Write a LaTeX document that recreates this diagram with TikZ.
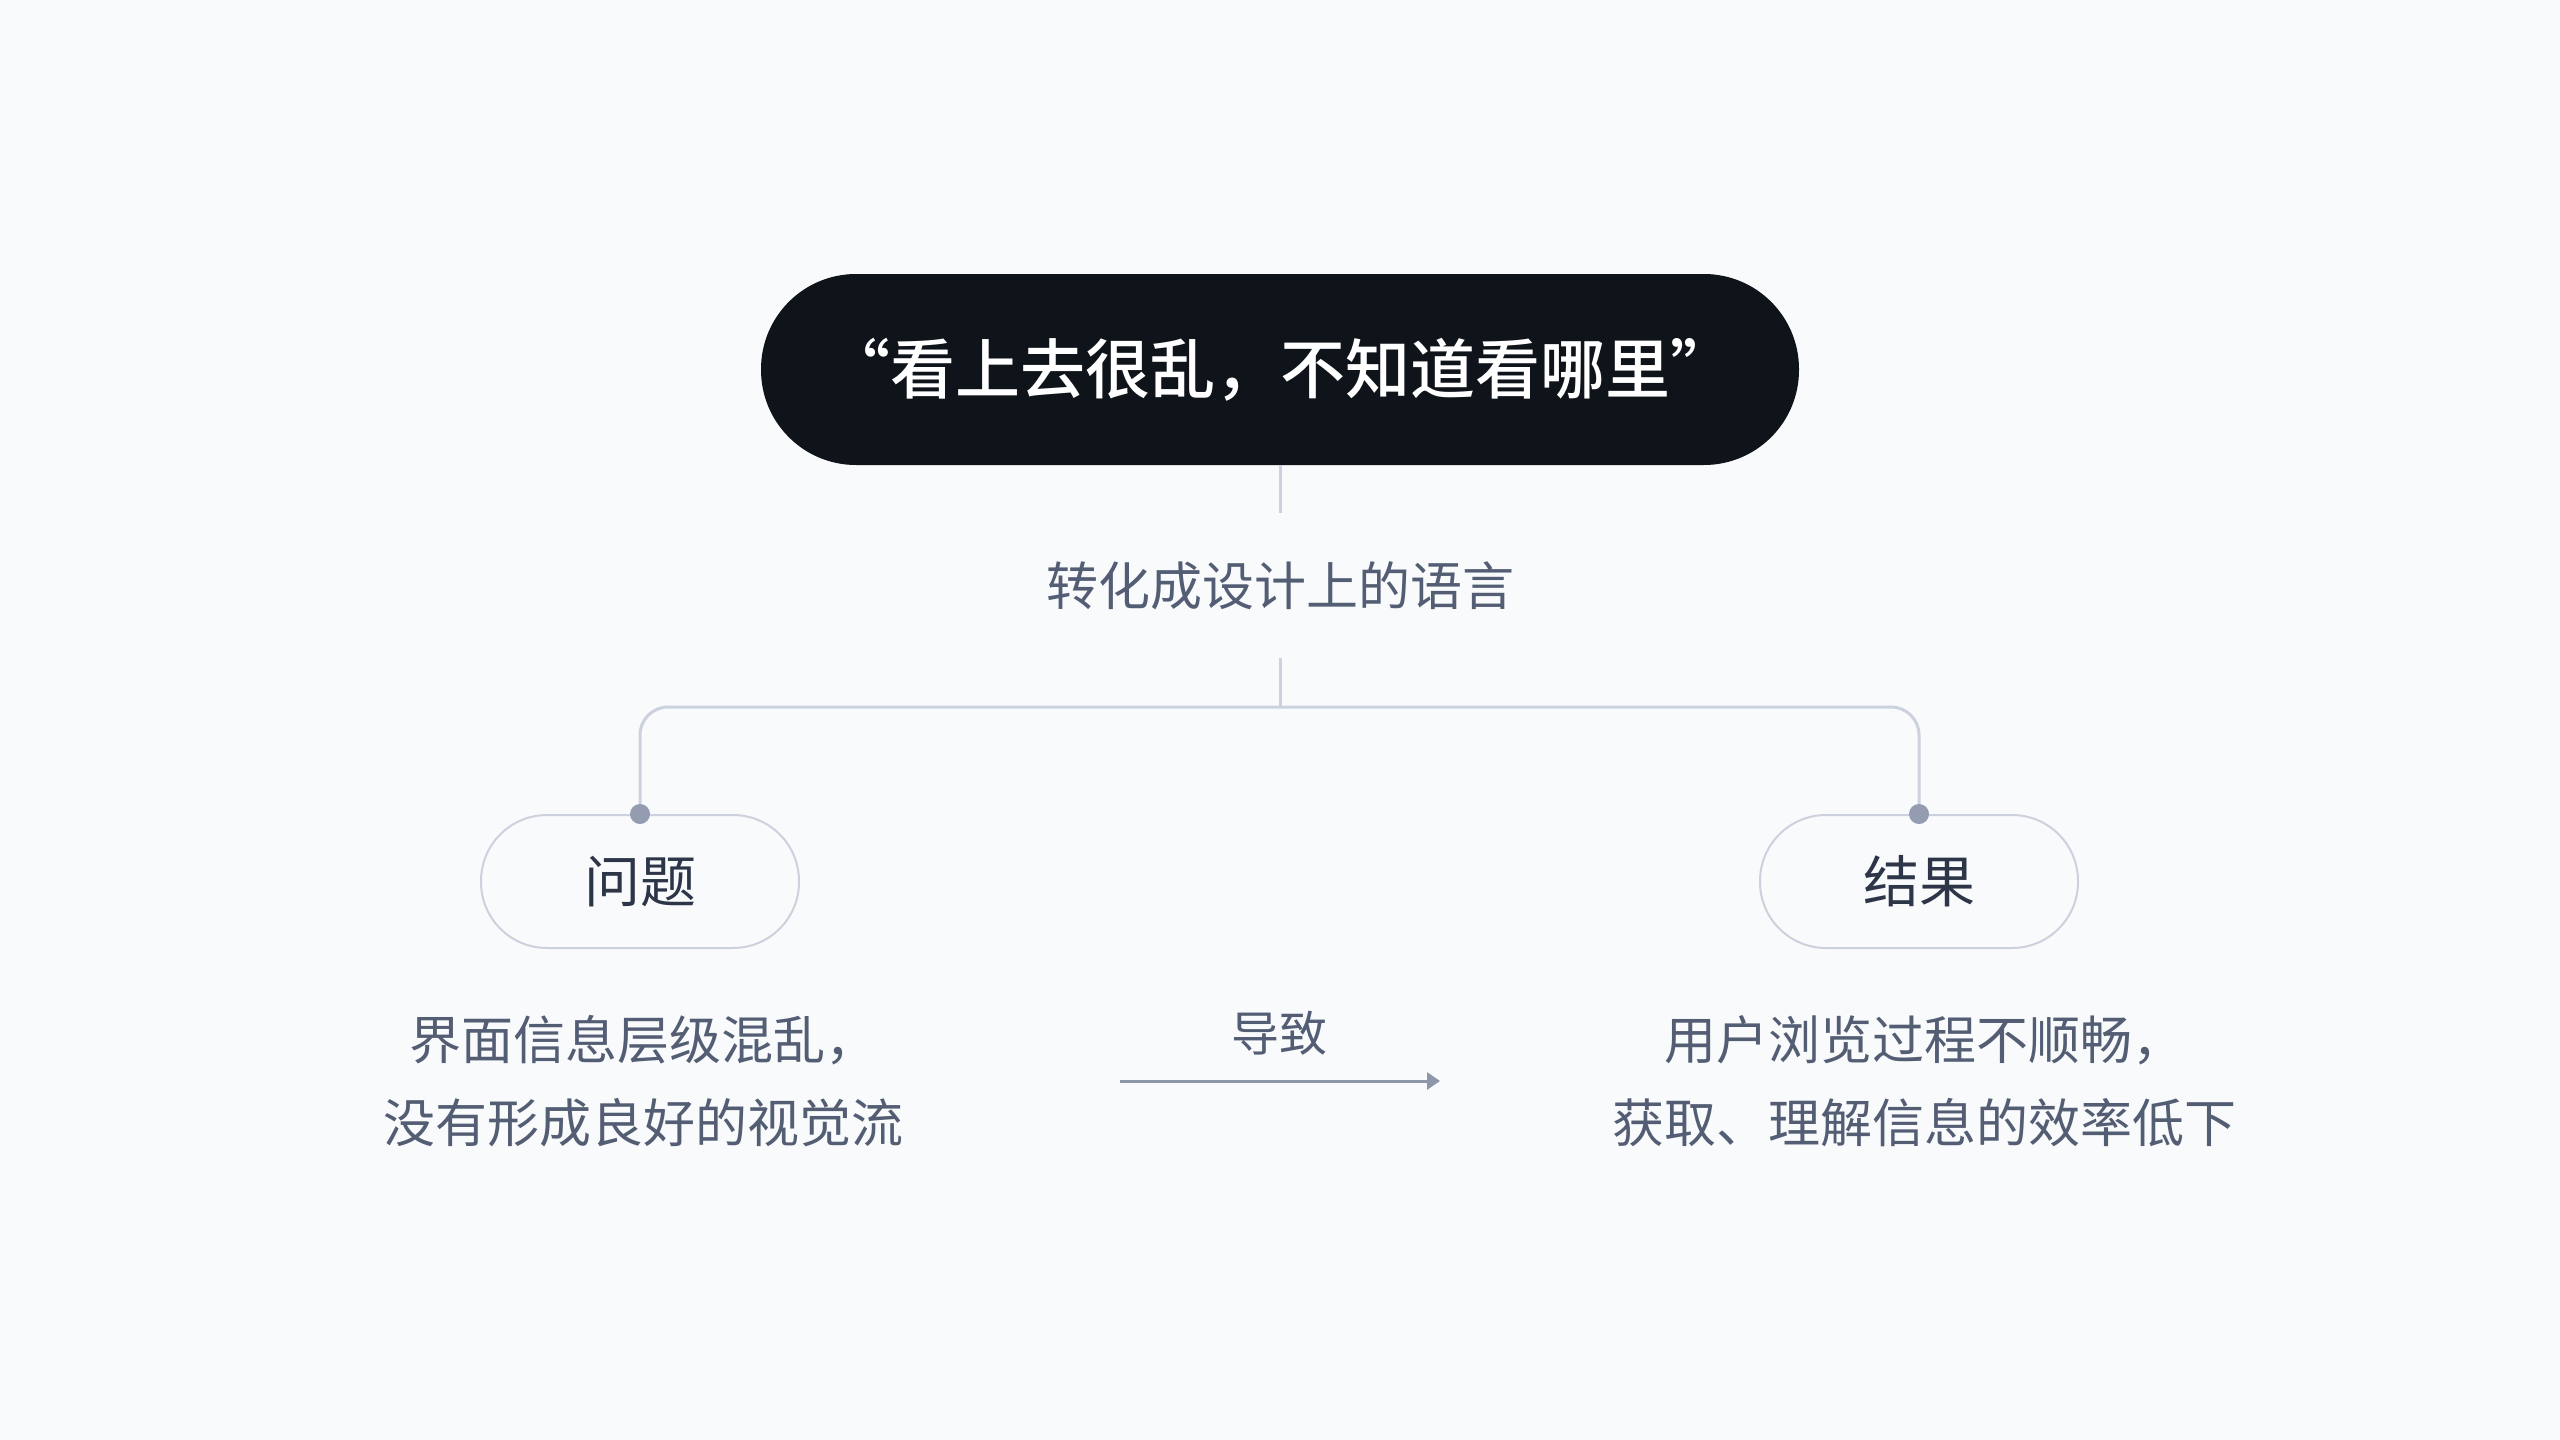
\documentclass[tikz,border=0pt]{standalone}
\usepackage{fontspec}
\newfontfamily\cjk{Noto Sans CJK SC}
\newfontfamily\cjkmed{Noto Sans CJK SC Medium}
\usetikzlibrary{arrows.meta}
\definecolor{bg}{HTML}{F9FAFB}
\definecolor{pilldark}{HTML}{0F141A}
\definecolor{conn}{HTML}{CBD2DD}
\definecolor{dotc}{HTML}{939CB0}
\definecolor{labc}{HTML}{535D73}
\definecolor{darktxt}{HTML}{2D3648}
\definecolor{arrc}{HTML}{8E97A9}
\tikzset{
  toppill/.style={rounded corners=95pt, fill=pilldark, minimum width=1038pt, minimum height=191pt, text=white, inner sep=0pt, font=\cjkmed\fontsize{65}{70}\selectfont},
  subpill/.style={rounded corners=66pt, draw=conn, line width=2pt, fill=bg, minimum width=318pt, minimum height=133pt, text=darktxt, inner sep=0pt, font=\cjk\fontsize{56}{60}\selectfont},
  midlabel/.style={text=labc, minimum height=145pt, inner sep=0pt, font=\cjk\fontsize{52}{56}\selectfont},
  desc/.style={text=labc, align=center, inner sep=0pt, font=\cjk\fontsize{52}{83}\selectfont},
  connline/.style={draw=conn, line width=3pt},
  dotmark/.style={fill=dotc},
  arrline/.style={draw=arrc, line width=3pt, -{Triangle[length=13pt,width=17pt]}}
}
\begin{document}
\begin{tikzpicture}[x=1pt,y=1pt]
\fill[bg] (0,0) rectangle (2560,-1440);
\useasboundingbox (0,0) rectangle (2560,-1440);
\node[toppill] (top) at (1280,-369.5) {“看上去很乱，不知道看哪里”};
\node[midlabel] (mid) at (1280,-585.5) {转化成设计上的语言};
\coordinate (j) at (1280,-707);
\node[subpill] (p1) at (640,-881.5) {问题};
\node[subpill] (p2) at (1919,-881.5) {结果};
\draw[connline] (top.south) -- (mid.north);
\draw[connline] (mid.south) -- (j);
\draw[connline, rounded corners=28pt] (p1.north) |- (j) -| (p2.north);
\fill[dotmark] (p1.north) circle (10);
\fill[dotmark] (p2.north) circle (10);
\node[desc] (d1) at (643,-1081) {界面信息层级混乱，\\没有形成良好的视觉流};
\node[desc] (d2) at (1924,-1081) {用户浏览过程不顺畅，\\获取、理解信息的效率低下};
\node[text=labc, inner sep=0pt, font=\cjk\fontsize{48}{52}\selectfont] (lead) at (1279,-1033) {导致};
\coordinate (a1) at (1120,-1081);
\coordinate (a2) at (1440,-1081);
\draw[arrline] (a1) -- (a2);
\end{tikzpicture}
\end{document}
